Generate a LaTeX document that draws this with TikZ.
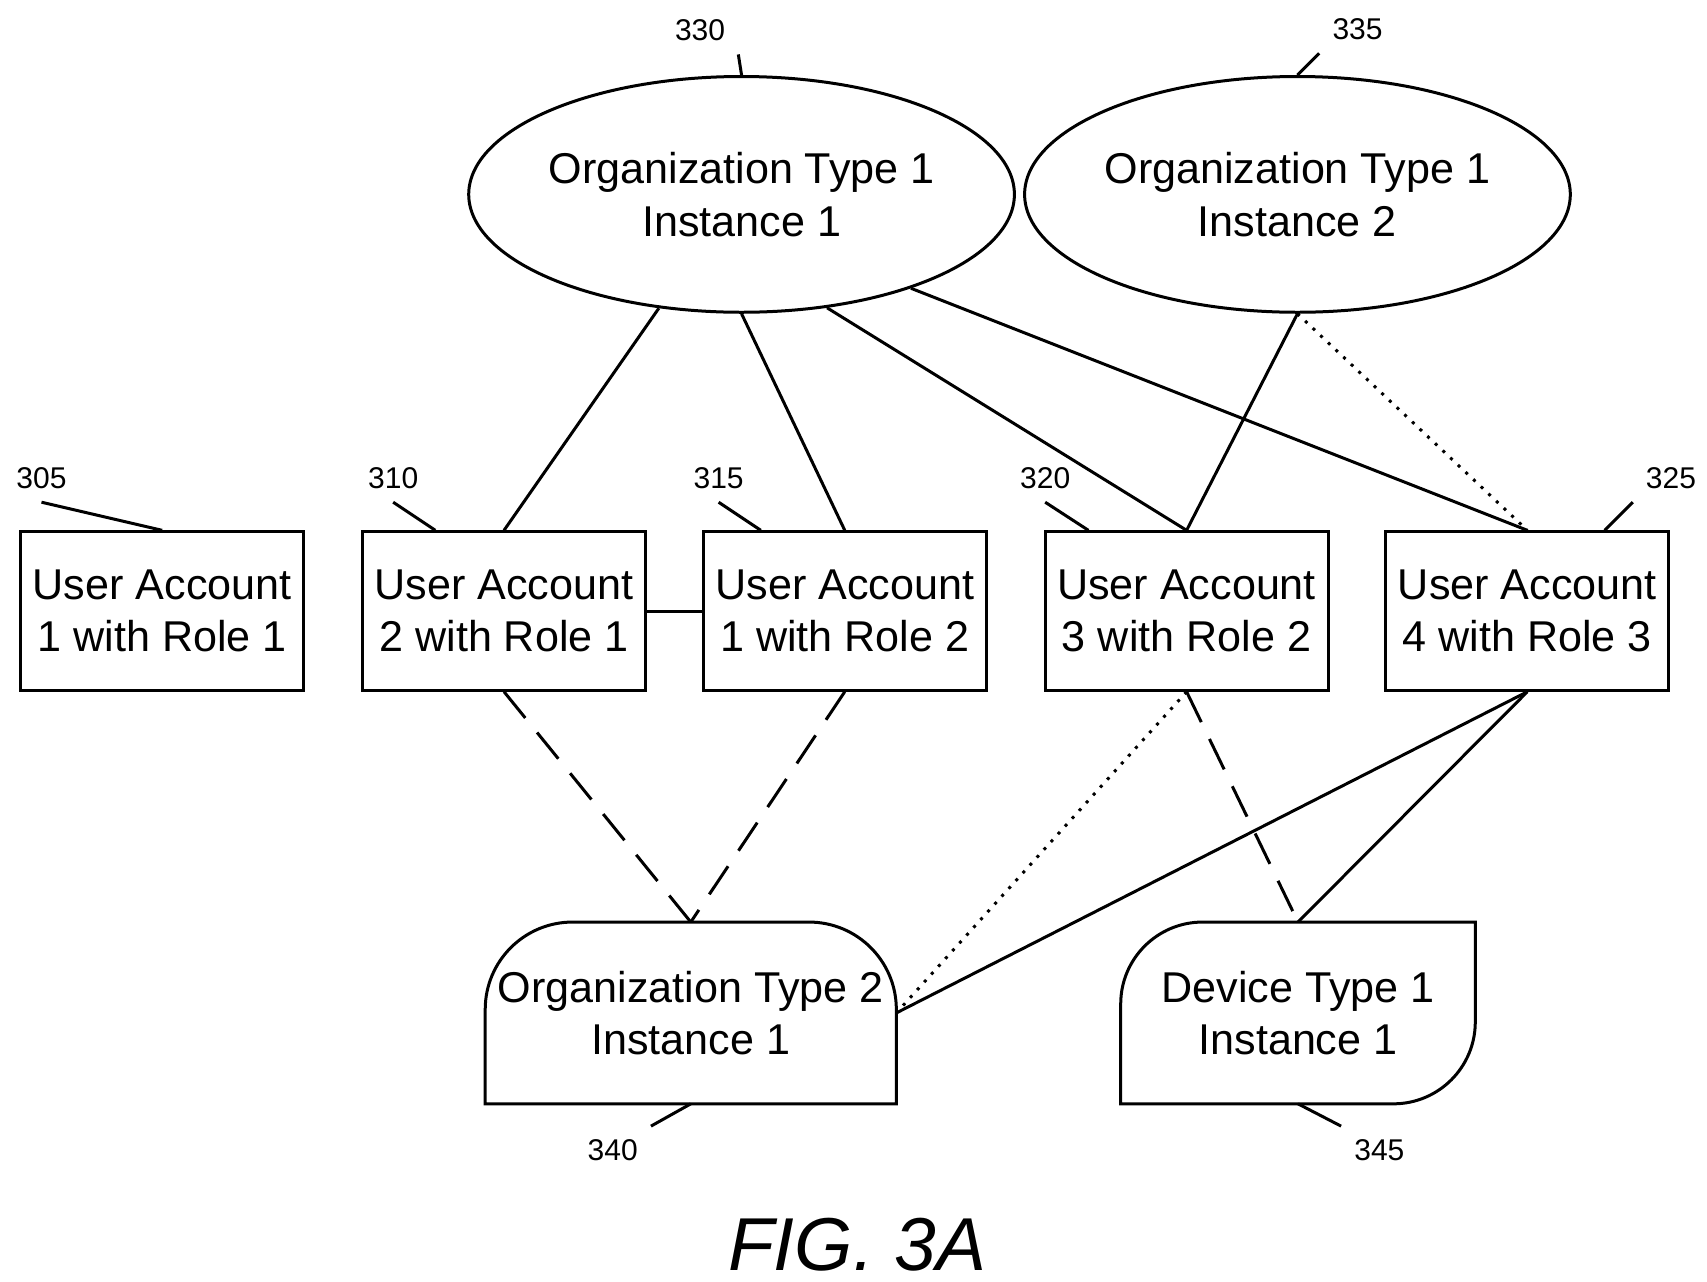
\documentclass[tikz,border=0pt]{standalone}
\usepackage{fontspec}
\setmainfont{Liberation Sans}
\usetikzlibrary{shapes.geometric,calc}

\tikzset{
  acct/.style={draw,thick,minimum width=2.652cm,minimum height=1.485cm,inner sep=0pt,align=center,font=\fontsize{11.5}{14}\selectfont},
  org/.style={draw,thick,ellipse,minimum width=4.22cm,minimum height=2.21cm,inner sep=0pt,align=center,font=\fontsize{11.5}{14}\selectfont},
  slot/.style={minimum width=3.84cm,minimum height=1.69cm,inner sep=0pt,align=center,font=\fontsize{11.5}{14}\selectfont},
  ref/.style={font=\fontsize{8}{10}\selectfont},
  link/.style={thick},
  mayb/.style={thick,dashed,dash pattern=on 9pt off 5pt},
  weak/.style={thick,dotted}
}

\begin{document}
\begin{tikzpicture}[x=0.01024cm,y=-0.01024cm]
\useasboundingbox (0,0) rectangle (1563,1173);

% Organizations
\node[org] (o1) at (679,178) {Organization Type 1\\Instance 1};
\node[org] (o2) at (1188,178) {Organization Type 1\\Instance 2};

% User accounts
\node[acct] (u1) at (148.5,559.5) {User Account\\1 with Role 1};
\node[acct] (u2) at (461.5,559.5) {User Account\\2 with Role 1};
\node[acct] (u3) at (773.5,559.5) {User Account\\1 with Role 2};
\node[acct] (u4) at (1086.5,559.5) {User Account\\3 with Role 2};
\node[acct] (u5) at (1398.5,559.5) {User Account\\4 with Role 3};

% Lower objects
\node[slot] (o3) at (632.5,927.5) {Organization Type 2\\Instance 1};
\draw[thick] (o3.south west) -- ($(o3.north west)+(0,80)$) arc (180:270:80 and 80)
  -- ($(o3.north east)+(-80,0)$) arc (270:360:80 and 80) -- (o3.south east) -- cycle;
\node[slot,minimum width=3.31cm] (d1) at (1188.5,927.5) {Device Type 1\\Instance 1};
\draw[thick] (d1.south west) -- ($(d1.north west)+(0,75)$) arc (180:270:75 and 75)
  -- (d1.north east) -- ($(d1.south east)+(0,-75)$) arc (0:90:75 and 75) -- cycle;

% Connections
\draw[link] (o1.234) -- (u2.north);
\draw[link] (o1.270) -- (u3.north);
\draw[link] (o1.307) -- (u4.north);
\draw[link] (o1.331) -- (u5.north);
\draw[link] (o2.270) -- (u4.north);
\draw[weak] (o2.270) -- (u5.north);
\draw[link] (u2.east) -- (u3.west);
\draw[mayb] (u2.south) -- (o3.north);
\draw[mayb] (u3.south) -- (o3.north);
\draw[weak] (u4.south) -- (o3.east);
\draw[mayb] (u4.south) -- (d1.north);
\draw[link] (u5.south) -- (o3.east);
\draw[link] (u5.south) -- (d1.north);

% Reference numerals
\node[ref] (r330) at (641,28) {330};
\node[ref] (r335) at (1243,27) {335};
\node[ref] (r305) at (38,438) {305};
\node[ref] (r310) at (360,438) {310};
\node[ref] (r315) at (658,438) {315};
\node[ref] (r320) at (957,438) {320};
\node[ref] (r325) at (1530,438) {325};
\node[ref] (r340) at (561,1053) {340};
\node[ref] (r345) at (1263,1053) {345};
\draw[link] (r330.south east) -- (o1.north);
\draw[link] (r335.south west) -- (o2.north);
\draw[link] (r305.south) -- (u1.north);
\draw[link] (r310.south) -- ($(u2.north west)+(68,0)$);
\draw[link] (r315.south) -- ($(u3.north west)+(54,0)$);
\draw[link] (r320.south) -- ($(u4.north west)+(41,0)$);
\draw[link] (r325.south west) -- ($(u5.north east)+(-60,0)$);
\draw[link] (r340.north east) -- (o3.south);
\draw[link] (r345.north west) -- (d1.south);

% Caption
\node[font=\itshape\fontsize{20}{24}\selectfont] (cap) at (785,1140) {FIG. 3A};
\end{tikzpicture}
\end{document}
